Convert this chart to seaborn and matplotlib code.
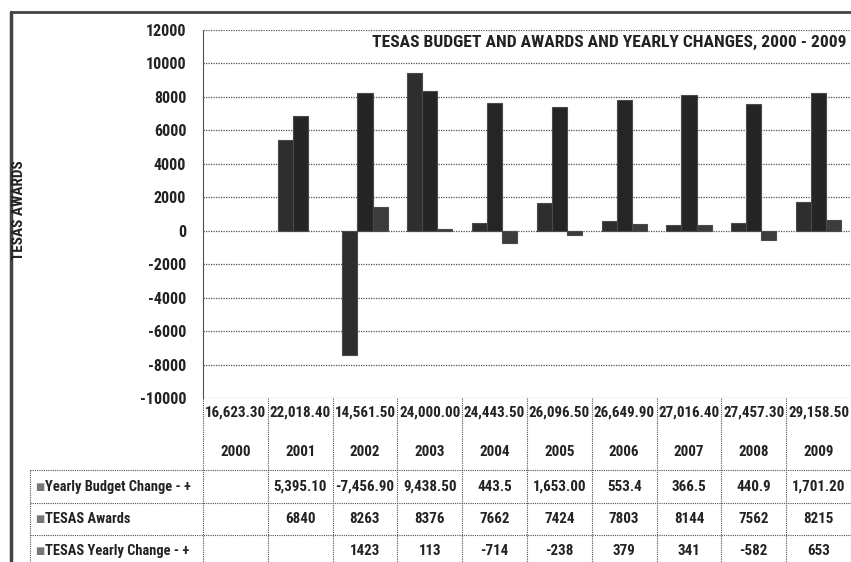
import matplotlib.pyplot as plt
import matplotlib.transforms as mtransforms
from matplotlib import font_manager
from matplotlib.lines import Line2D
import numpy as np
import pandas as pd
import seaborn as sns

""" Chart data """
years = ["2000", "2001", "2002", "2003", "2004", "2005", "2006", "2007", "2008", "2009"]
budget = [16623.30, 22018.40, 14561.50, 24000.00, 24443.50, 26096.50, 26649.90, 27016.40, 27457.30, 29158.50]
budget_change = [np.nan, 5395.10, -7456.90, 9438.50, 443.5, 1653.00, 553.4, 366.5, 440.9, 1701.20]
tesas_awards = [np.nan, 6840, 8263, 8376, 7662, 7424, 7803, 8144, 7562, 8215]
tesas_change = [np.nan, np.nan, 1423, 113, -714, -238, 379, 341, -582, 653]
series_names = ["Yearly Budget Change - +", "TESAS Awards", "TESAS Yearly Change - +"]
title = "TESAS BUDGET AND AWARDS AND YEARLY CHANGES, 2000 - 2009"
ylabel = "TESAS AWARDS"

""" Style settings """
W, H = 851, 562
bar_colors = ["#2e2e2e", "#252525", "#3c3c3c"]
line_color = "#505050"
text_color = "#222222"
dotted = (0, (1, 1))

# pick a narrow font if one is installed, else a regular one at smaller size
installed = {f.name for f in font_manager.fontManager.ttflist}
narrow = [n for n in ["Liberation Sans Narrow", "Roboto Condensed", "Open Sans Condensed",
                      "DejaVu Sans Condensed", "Arial Narrow"] if n in installed]
if narrow:
    main_font, k = narrow[0], 1.0
else:
    main_font, k = "Liberation Sans", 0.84

sns.set_style("white")
plt.rcParams["font.family"] = [main_font, "DejaVu Sans"]
plt.rcParams["font.weight"] = "bold"
plt.rcParams["axes.unicode_minus"] = False


def fmt_budget_change(v):
    if np.isnan(v):
        return ""
    return f"{v:,.2f}" if abs(v) >= 1000 else f"{v:g}"


def fmt_int(v):
    return "" if np.isnan(v) else f"{int(v)}"


# Long-form table for seaborn
df = pd.DataFrame(
    {
        "year": years * 3,
        "series": np.repeat(series_names, len(years)),
        "value": budget_change + tesas_awards + tesas_change,
    }
).dropna()

fig = plt.figure(figsize=(W / 100, H / 100), dpi=100)
ax = fig.add_axes([203 / W, 1 - 398 / H, 648 / W, 368 / H])

sns.barplot(
    data=df, x="year", y="value", hue="series",
    order=years, hue_order=series_names, palette=bar_colors,
    width=0.7, errorbar=None, legend=False, ax=ax,
    edgecolor="#4a4a4a", linewidth=0.8,
)

ax.set(xlim=(-0.5, 9.5), ylim=(-10000, 12000), xlabel="", ylabel="")
ax.set_yticks(np.arange(-10000, 12001, 2000))
ax.set_xticks([])
ax.tick_params(axis="y", length=0, pad=12, labelsize=11.5 * k, labelcolor=text_color)
for lbl in ax.get_yticklabels():
    lbl.set_fontweight("bold")
for s in ax.spines.values():
    s.set_visible(False)
ax.spines["left"].set_visible(True)
ax.spines["left"].set_linestyle(dotted)
ax.spines["left"].set_color(line_color)
ax.spines["left"].set_linewidth(0.8)
ax.yaxis.grid(True, linestyle=dotted, color=line_color, linewidth=0.9)
ax.set_axisbelow(True)

# Title and axis label
fig.text(847 / W, 1 - 42 / H, title, ha="right", va="center", fontsize=12.6 * k,
         fontweight="bold", color=text_color)
fig.text(19 / W, 1 - 210 / H, ylabel, rotation=90, ha="center", va="center",
         fontsize=11 * k, fontweight="bold", color=text_color)

# Data table below the plot
tr = mtransforms.blended_transform_factory(ax.transData, fig.transFigure)
fy = lambda py: 1 - py / H
cell = dict(transform=tr, ha="center", va="center", fontsize=10.8 * k, color=text_color)
for i in range(len(years)):
    fig.text(i, fy(413), f"{budget[i]:,.2f}", **cell)
    fig.text(i, fy(452), years[i], **cell)
    fig.text(i, fy(487), fmt_budget_change(budget_change[i]), **cell)
    fig.text(i, fy(519), fmt_int(tesas_awards[i]), **cell)
    fig.text(i, fy(551), fmt_int(tesas_change[i]), **cell)

for i in range(len(years) + 1):
    fig.add_artist(Line2D([i - 0.5, i - 0.5], [fy(398), fy(H)], transform=tr,
                          color=line_color, linestyle=dotted, linewidth=0.8))

for py in [470, 503, 535]:
    fig.add_artist(Line2D([30 / W, 1], [fy(py), fy(py)], transform=fig.transFigure,
                          color=line_color, linestyle=dotted, linewidth=0.8))
fig.add_artist(Line2D([30 / W, 30 / W], [fy(470), fy(H)], transform=fig.transFigure,
                      color=line_color, linestyle=dotted, linewidth=0.8))

for name, py in zip(series_names, [487, 519, 551]):
    fig.text(35 / W, fy(py), "\u25a0", ha="left", va="center", fontsize=7, color="#777777",
             family=["DejaVu Sans"])
    fig.text(45 / W, fy(py), name, ha="left", va="center", fontsize=10.4 * k,
             fontweight="bold", color=text_color)

# Outer chart border
fig.add_artist(Line2D([11 / W, 1], [fy(12), fy(12)], transform=fig.transFigure, color="#444444", linewidth=2))
fig.add_artist(Line2D([11 / W, 11 / W], [fy(12), 0], transform=fig.transFigure, color="#444444", linewidth=2.5))

fig.savefig("out.png", dpi=100)
